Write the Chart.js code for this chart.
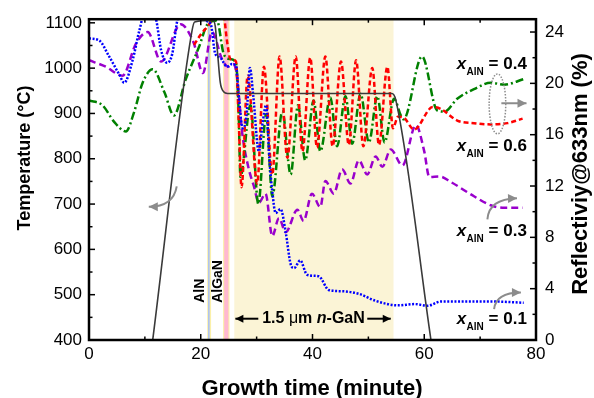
<!DOCTYPE html>
<html>
<head>
<meta charset="utf-8">
<script src="https://cdn.jsdelivr.net/npm/chart.js@4.4.0/dist/chart.umd.min.js"></script>
<style>
  html, body { margin: 0; padding: 0; background: #fff; }
  #wrap { width: 594px; height: 398px; }
</style>
</head>
<body>
<div id="wrap"><canvas id="growthChart"></canvas></div>
<script>
const FONT = '"Liberation Sans", Arial, sans-serif';

// axis ticks
const timeTicks = [0, 20, 40, 60, 80];
const timeMinorTicks = [10, 30, 50, 70];
const tempTicks = [400, 500, 600, 700, 800, 900, 1000, 1100];
const tempMinorTicks = [450, 550, 650, 750, 850, 950, 1050];
const reflTicks = [0, 4, 8, 12, 16, 20, 24];
const reflMinorTicks = [2, 6, 10, 14, 18, 22];

// growth temperature (°C, left axis)
const tempTime = [11.4, 18.4, 18.9, 22.2, 22.6, 23.0, 23.5, 24.1, 24.8, 54.2, 54.9, 61.2];
const tempValue = [400, 1080, 1102, 1105, 1092, 1035, 968, 948, 944, 944, 930, 400];

// reflectivity (%), x_AlN = 0.1
const timeX01 = [0, 1.8, 3.6, 5.4, 6.3, 7.8, 9.0, 10.5, 12.0, 12.9, 14.0, 14.9, 15.8, 17.5, 19.5,
  21.0, 21.8, 22.6, 23.5, 24.7, 25.6, 26.3, 26.8, 27.5, 28.2, 28.8, 29.4, 30.4, 31.1, 31.7,
  32.3, 32.8, 33.4, 34.3, 35.2, 36.1, 36.7, 37.8, 39.0, 40.4, 41.2, 42.9, 45.3, 48.3, 51.3,
  55.4, 58.2, 60.6, 63.0, 66.5, 72.5, 77.8];
const reflX01 = [23.5, 23.35, 22.1, 20.7, 20.05, 21.8, 24.1, 26.2, 25.0, 22.6, 21.6, 22.3, 24.9, 27, 26.5,
  24.9, 24.6, 22.3, 22.0, 21.3, 21.5, 21.4, 19.0, 16.5, 17.5, 21.2, 19.0, 14.7, 17.0, 18.3,
  14.0, 11.6, 9.9, 10.2, 8.4, 5.9, 5.6, 6.2, 5.1, 5.0, 4.95, 3.9, 3.8, 3.6, 3.05,
  2.7, 2.8, 2.67, 3.0, 3.0, 3.0, 2.9];

// x_AlN = 0.3
const timeX03 = [0, 3.0, 6.0, 8.4, 10.5, 12.9, 16.4, 18.7, 20.4, 22.0, 23.8, 24.9, 25.8, 26.5, 27.4,
  28.5, 29.5, 30.4, 31.6, 32.8, 34.0, 35.2, 37.3, 38.4, 39.9, 41.4, 42.3, 43.8, 45.3, 46.8,
  48.3, 49.8, 51.3, 52.5, 54.0, 56.1, 58.5, 60.0, 60.9, 62.7, 64.8, 68.9, 71.9, 74.3, 77.6];
const reflX03 = [21.8, 21.3, 20.6, 23.1, 24.0, 21.7, 24.6, 23.2, 20.8, 24.0, 21.9, 21.3, 21.5, 20.5, 16.2,
  13.5, 12.0, 10.7, 11.4, 8.1, 9.5, 8.4, 10.15, 9.27, 11.4, 10.36, 12.4, 11.4, 13.3, 12.2,
  14.0, 12.9, 14.3, 13.5, 14.85, 13.6, 16.75, 14.7, 12.7, 12.75, 12.3, 11.2, 10.5, 10.3, 10.3];

// x_AlN = 0.4
const timeX04 = [0, 2.4, 4.5, 6.6, 8.1, 9.6, 11.4, 13.5, 15.2, 17.3, 19.7, 21.2, 22.9, 24.1, 25.2,
  26.3, 26.8, 27.1, 28.9, 30.3, 31.7, 32.8, 34.6, 36.1, 37.4, 38.7, 40.2, 41.4, 43.2, 44.4,
  45.9, 47.1, 48.6, 50.1, 51.6, 52.9, 54.6, 55.8, 56.3, 59.6, 62.3, 63.6, 65.9, 68.9, 71.9,
  74.3, 77.9];
const reflX04 = [18.66, 18.3, 17.0, 16.25, 17.8, 20.05, 21.1, 19.3, 17.5, 20.3, 22.85, 24.6, 24.9, 22.3, 21.9,
  21.6, 17.5, 12.7, 18.3, 10.6, 17.6, 11.2, 17.8, 12.9, 18.3, 14.0, 18.66, 14.7, 18.9, 15.1,
  19.0, 15.3, 19.2, 15.4, 19.0, 15.4, 18.8, 17.5, 17.2, 22.1, 17.9, 17.8, 18.8, 19.55, 20.05,
  19.9, 20.35];

// x_AlN = 0.6
const timeX06 = [18.8, 20.0, 21.5, 22.5, 24.0, 24.7, 25.3, 26.3, 26.8, 27.3, 28.4, 30.1, 31.3, 32.8, 34.1,
  35.5, 37.0, 38.2, 39.6, 40.8, 42.3, 43.6, 45.1, 46.5, 47.8, 49.1, 50.7, 51.9, 53.4, 54.4,
  55.3, 56.4, 58.2, 61.5, 63.0, 65.9, 68.9, 71.9, 74.9, 77.6];
const reflX06 = [23.0, 23.8, 24.6, 25.3, 25.5, 23.3, 21.9, 21.7, 17.0, 11.9, 20.6, 12.2, 21.3, 12.9, 22.1,
  14.2, 22.1, 14.7, 22.0, 15.0, 22.1, 15.1, 21.7, 15.2, 21.8, 15.1, 21.2, 15.2, 21.3, 16.5,
  17.4, 17.3, 16.4, 18.15, 18.0, 17.1, 16.9, 16.8, 16.9, 17.25];

// growth steps (minute)
const ganRegion = [26.0, 54.5];
const alnBand = [21.15, 21.85];
const alnCore = [21.3, 21.6];
const alganBand = [24.0, 25.15];
const alganCore = [24.2, 24.95];

// composition labels
const compValues = ['0.4', '0.6', '0.3', '0.1'];
const compAnchorT = 65.8;
const compAnchorR = [21.15, 14.7, 8.1, 1.27];

const toPoints = (xs, ys) => xs.map((x, i) => ({ x: x, y: ys[i] }));

function reflSeries(label, xs, ys, color, dash) {
  return {
    label: label,
    data: toPoints(xs, ys),
    yAxisID: 'y2',
    borderColor: color,
    borderWidth: 2.5,
    borderDash: dash,
    pointRadius: 0,
    fill: false,
    cubicInterpolationMode: 'monotone'
  };
}

function arrowHead(ctx, x, y, angle, size) {
  ctx.save();
  ctx.translate(x, y);
  ctx.rotate(angle);
  ctx.beginPath();
  ctx.moveTo(0, 0);
  ctx.lineTo(-size, -size * 0.5);
  ctx.lineTo(-size, size * 0.5);
  ctx.closePath();
  ctx.fill();
  ctx.restore();
}

function curvedArrow(ctx, p0, c, p1) {
  ctx.beginPath();
  ctx.moveTo(p0[0], p0[1]);
  ctx.quadraticCurveTo(c[0], c[1], p1[0], p1[1]);
  ctx.stroke();
  arrowHead(ctx, p1[0], p1[1], Math.atan2(p1[1] - c[1], p1[0] - c[0]), 9);
}

const bandsPlugin = {
  id: 'bands',
  beforeDatasetsDraw(chart) {
    const { ctx, chartArea: a, scales: { x } } = chart;
    const fillBand = (r, color) => {
      const x0 = x.getPixelForValue(r[0]);
      const x1 = x.getPixelForValue(r[1]);
      ctx.fillStyle = color;
      ctx.fillRect(x0, a.top, x1 - x0, a.bottom - a.top);
    };
    ctx.save();
    fillBand(ganRegion, '#FBF4D6');
    fillBand(alnBand, '#FBF0A8');
    fillBand(alnCore, '#AFC3EE');
    fillBand(alganBand, '#FBF0A8');
    fillBand(alganCore, '#FFB8D0');
    ctx.restore();
  }
};

const decorPlugin = {
  id: 'decor',
  afterDraw(chart) {
    const { ctx, chartArea: a, scales: { x, y, y2 } } = chart;
    ctx.save();

    // inward ticks
    ctx.strokeStyle = '#000';
    ctx.lineWidth = 1.5;
    const tick = (x0, y0, x1, y1) => { ctx.beginPath(); ctx.moveTo(x0, y0); ctx.lineTo(x1, y1); ctx.stroke(); };
    timeTicks.concat(timeMinorTicks).forEach(v => {
      const p = x.getPixelForValue(v);
      const len = timeTicks.includes(v) ? 6 : 3.5;
      tick(p, a.bottom, p, a.bottom - len);
      tick(p, a.top, p, a.top + len);
    });
    tempTicks.concat(tempMinorTicks).forEach(v => {
      const p = y.getPixelForValue(v);
      tick(a.left, p, a.left + (tempTicks.includes(v) ? 6 : 3.5), p);
    });
    reflTicks.concat(reflMinorTicks).forEach(v => {
      const p = y2.getPixelForValue(v);
      tick(a.right, p, a.right - (reflTicks.includes(v) ? 6 : 3.5), p);
    });

    // frame
    ctx.lineWidth = 2.5;
    ctx.strokeRect(a.left, a.top, a.right - a.left, a.bottom - a.top);

    ctx.fillStyle = '#000';
    // AlN / AlGaN labels
    ctx.font = 'bold 14px ' + FONT;
    ctx.textAlign = 'left';
    ctx.textBaseline = 'middle';
    [['AlN', 19.97], ['AlGaN', 23.05]].forEach(([txt, t]) => {
      ctx.save();
      ctx.translate(x.getPixelForValue(t), y.getPixelForValue(482));
      ctx.rotate(-Math.PI / 2);
      ctx.fillText(txt, 0, 0);
      ctx.restore();
    });

    // 1.5 um n-GaN label with arrows
    const gy = y.getPixelForValue(447);
    let gx = x.getPixelForValue(31.0);
    [['bold 16px ', '1.5 '], ['16px ', '\u03bc'], ['bold 16px ', 'm '], ['italic bold 16px ', 'n'], ['bold 16px ', '-GaN']]
      .forEach(([f, s]) => {
        ctx.font = f + FONT;
        ctx.fillText(s, gx, gy);
        gx += ctx.measureText(s).width;
      });
    ctx.strokeStyle = '#000';
    ctx.lineWidth = 2;
    const gArrow = (t0, t1) => {
      const p0 = x.getPixelForValue(t0), p1 = x.getPixelForValue(t1);
      ctx.beginPath(); ctx.moveTo(p0, gy); ctx.lineTo(p1, gy); ctx.stroke();
      arrowHead(ctx, p1, gy, p1 > p0 ? 0 : Math.PI, 8);
    };
    gArrow(30.3, 26.2);
    gArrow(49.8, 54.0);

    // composition labels
    ctx.textBaseline = 'alphabetic';
    compValues.forEach((val, i) => {
      const lx = x.getPixelForValue(compAnchorT);
      const ly = y2.getPixelForValue(compAnchorR[i]);
      ctx.font = 'italic bold 17px ' + FONT;
      ctx.fillText('x', lx, ly);
      let cx = lx + ctx.measureText('x').width + 0.5;
      ctx.font = 'bold 10px ' + FONT;
      ctx.fillText('AlN', cx, ly + 6);
      cx += ctx.measureText('AlN').width;
      ctx.font = 'bold 17px ' + FONT;
      ctx.fillText(' = ' + val, cx, ly);
    });

    // gray arrows pointing to the axes
    ctx.strokeStyle = '#8C8C8C';
    ctx.fillStyle = '#8C8C8C';
    ctx.lineWidth = 2;
    const pT = (t, v) => [x.getPixelForValue(t), y.getPixelForValue(v)];
    const pR = (t, v) => [x.getPixelForValue(t), y2.getPixelForValue(v)];
    curvedArrow(ctx, pT(15.7, 739), pT(15.1, 694), pT(10.7, 694));
    curvedArrow(ctx, pR(71.3, 9.4), pR(71.55, 11.0), pR(76.6, 11.05));
    curvedArrow(ctx, pR(72.5, 2.4), pR(72.8, 3.7), pR(77.3, 3.7));
    const e0 = pR(73.8, 18.45), e1 = pR(78.3, 18.45);
    ctx.beginPath(); ctx.moveTo(e0[0], e0[1]); ctx.lineTo(e1[0], e1[1]); ctx.stroke();
    arrowHead(ctx, e1[0], e1[1], 0, 9);

    // dotted ellipse grouping x = 0.4 and 0.6
    const ec = pR(73.1, 18.4);
    ctx.setLineDash([1.5, 1.5]);
    ctx.lineWidth = 1.5;
    ctx.beginPath();
    ctx.ellipse(ec[0], ec[1], 8.3, 30, 0, 0, Math.PI * 2);
    ctx.stroke();
    ctx.setLineDash([]);

    // axis titles
    ctx.fillStyle = '#000';
    ctx.textAlign = 'center';
    ctx.textBaseline = 'alphabetic';
    ctx.font = 'bold 18px ' + FONT;
    ctx.save();
    ctx.translate(30, 158);
    ctx.rotate(-Math.PI / 2);
    ctx.fillText('Temperature (\u00b0C)', 0, 0);
    ctx.restore();
    ctx.font = 'bold 22px ' + FONT;
    ctx.save();
    ctx.translate(587, 174);
    ctx.rotate(-Math.PI / 2);
    ctx.fillText('Reflectiviy@633nm (%)', 0, 0);
    ctx.restore();
    ctx.fillText('Growth time (minute)', 312, 395);

    ctx.restore();
  }
};

Chart.defaults.font.family = FONT;
Chart.defaults.color = '#000';

new Chart(document.getElementById('growthChart'), {
  type: 'line',
  data: {
    datasets: [
      {
        label: 'Temperature',
        data: toPoints(tempTime, tempValue),
        yAxisID: 'y',
        borderColor: '#3A3A3A',
        borderWidth: 1.6,
        pointRadius: 0,
        fill: false,
        cubicInterpolationMode: 'monotone'
      },
      reflSeries('x = 0.1', timeX01, reflX01, '#0000FF', [2, 1.6]),
      reflSeries('x = 0.6', timeX06, reflX06, '#FF0000', [5, 3]),
      reflSeries('x = 0.4', timeX04, reflX04, '#008000', [8, 3, 2, 3]),
      reflSeries('x = 0.3', timeX03, reflX03, '#9900CC', [7, 4])
    ]
  },
  options: {
    responsive: true,
    maintainAspectRatio: false,
    animation: false,
    layout: { padding: { top: 12, left: 0, right: 0, bottom: 0 } },
    plugins: { legend: { display: false }, tooltip: { enabled: false } },
    scales: {
      x: {
        type: 'linear',
        min: 0,
        max: 80,
        grid: { display: false, drawTicks: false },
        border: { display: false },
        afterBuildTicks: s => { s.ticks = timeTicks.map(v => ({ value: v })); },
        ticks: { padding: 4, font: { size: 17 }, callback: v => String(v), maxRotation: 0 },
        afterFit: s => { s.height = 58; }
      },
      y: {
        position: 'left',
        min: 400,
        max: 1108,
        grid: { display: false, drawTicks: false },
        border: { display: false },
        afterBuildTicks: s => { s.ticks = tempTicks.map(v => ({ value: v })); },
        ticks: { padding: 7, font: { size: 17 }, callback: v => String(v) },
        afterFit: s => { s.width = 89; }
      },
      y2: {
        position: 'right',
        min: 0,
        max: 25,
        grid: { display: false, drawTicks: false },
        border: { display: false },
        afterBuildTicks: s => { s.ticks = reflTicks.map(v => ({ value: v })); },
        ticks: { padding: 9, font: { size: 17 }, callback: v => String(v) },
        afterFit: s => { s.width = 58; }
      }
    }
  },
  plugins: [bandsPlugin, decorPlugin]
});
</script>
</body>
</html>
